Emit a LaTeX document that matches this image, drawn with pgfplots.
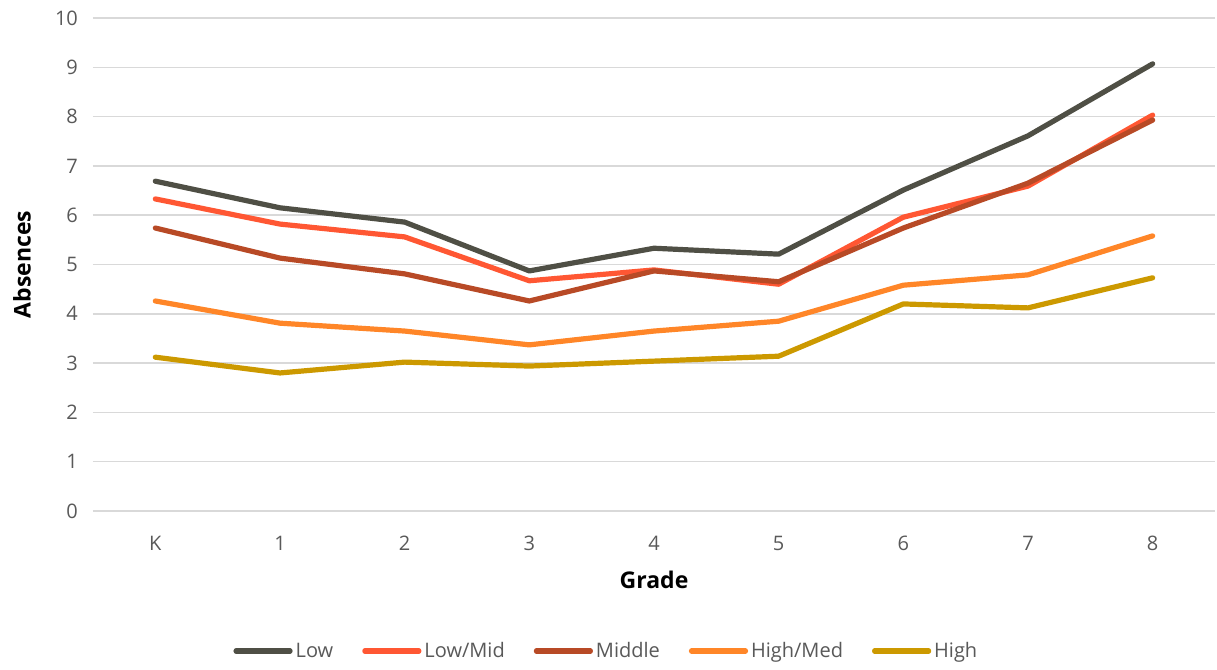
\documentclass[border=0pt]{standalone}
\usepackage{fontspec}
\setmainfont{Open Sans}
\usepackage{pgfplots}
\pgfplotsset{compat=1.18}
\definecolor{cLow}{HTML}{4F4F45}
\definecolor{cLowMid}{HTML}{FF5733}
\definecolor{cMiddle}{HTML}{B84A26}
\definecolor{cHighMed}{HTML}{FF8628}
\definecolor{cHigh}{HTML}{CC9900}
\definecolor{gridc}{HTML}{D9D9D9}
\definecolor{txt}{HTML}{595959}
\begin{document}
\begin{tikzpicture}
\begin{axis}[
  at={(0,0)}, anchor=south west,
  scale only axis,
  width=561pt, height=246.5pt,
  xmin=-0.5, xmax=8.5,
  ymin=0, ymax=10,
  xtick={0,1,2,3,4,5,6,7,8},
  xticklabels={K,1,2,3,4,5,6,7,8},
  ytick={0,1,...,10},
  ymajorgrids,
  grid style={gridc, line width=0.75pt},
  axis line style={draw=none},
  major tick length=0pt,
  tick label style={font=\fontsize{10}{12}\selectfont, text=txt},
  /pgf/number format/assume math mode=true,
  xticklabel style={yshift=-9pt},
  yticklabel style={xshift=-4pt},
  xlabel={\textbf{Grade}},
  ylabel={\textbf{Absences}},
  label style={font=\fontsize{11.5}{13}\selectfont},
  xlabel style={at={(axis description cs:0.5,0)}, anchor=center, yshift=-34.5pt},
  ylabel style={at={(axis description cs:0,0.5)}, anchor=center, yshift=35.5pt},
  legend style={at={(axis description cs:0.458,-0.284)}, anchor=center, draw=none,
    font=\fontsize{10}{12}\selectfont, text=txt,
    /tikz/every even column/.append style={column sep=13pt},
    nodes={inner xsep=1.5pt, text height=1.6ex, text depth=0.4ex}},
  legend columns=-1,
  legend image code/.code={\draw[#1, line width=2.6pt, line cap=round] (0pt,0pt) -- (27pt,0pt);},
  every axis plot/.append style={line width=2.6pt, line join=round, line cap=round},
]
\addplot[cLow] coordinates {(0,6.69) (1,6.15) (2,5.86) (3,4.87) (4,5.33) (5,5.21) (6,6.51) (7,7.61) (8,9.07)};
\addlegendentry{Low}
\addplot[cLowMid] coordinates {(0,6.33) (1,5.82) (2,5.56) (3,4.67) (4,4.89) (5,4.60) (6,5.96) (7,6.59) (8,8.03)};
\addlegendentry{Low/Mid}
\addplot[cMiddle] coordinates {(0,5.74) (1,5.13) (2,4.81) (3,4.26) (4,4.87) (5,4.65) (6,5.74) (7,6.65) (8,7.93)};
\addlegendentry{Middle}
\addplot[cHighMed] coordinates {(0,4.26) (1,3.81) (2,3.65) (3,3.37) (4,3.65) (5,3.85) (6,4.58) (7,4.79) (8,5.58)};
\addlegendentry{High/Med}
\addplot[cHigh] coordinates {(0,3.12) (1,2.80) (2,3.02) (3,2.94) (4,3.04) (5,3.14) (6,4.20) (7,4.12) (8,4.73)};
\addlegendentry{High}
\end{axis}
\useasboundingbox (-46.5pt,-78pt) rectangle (562pt,255.5pt);
\end{tikzpicture}
\end{document}
